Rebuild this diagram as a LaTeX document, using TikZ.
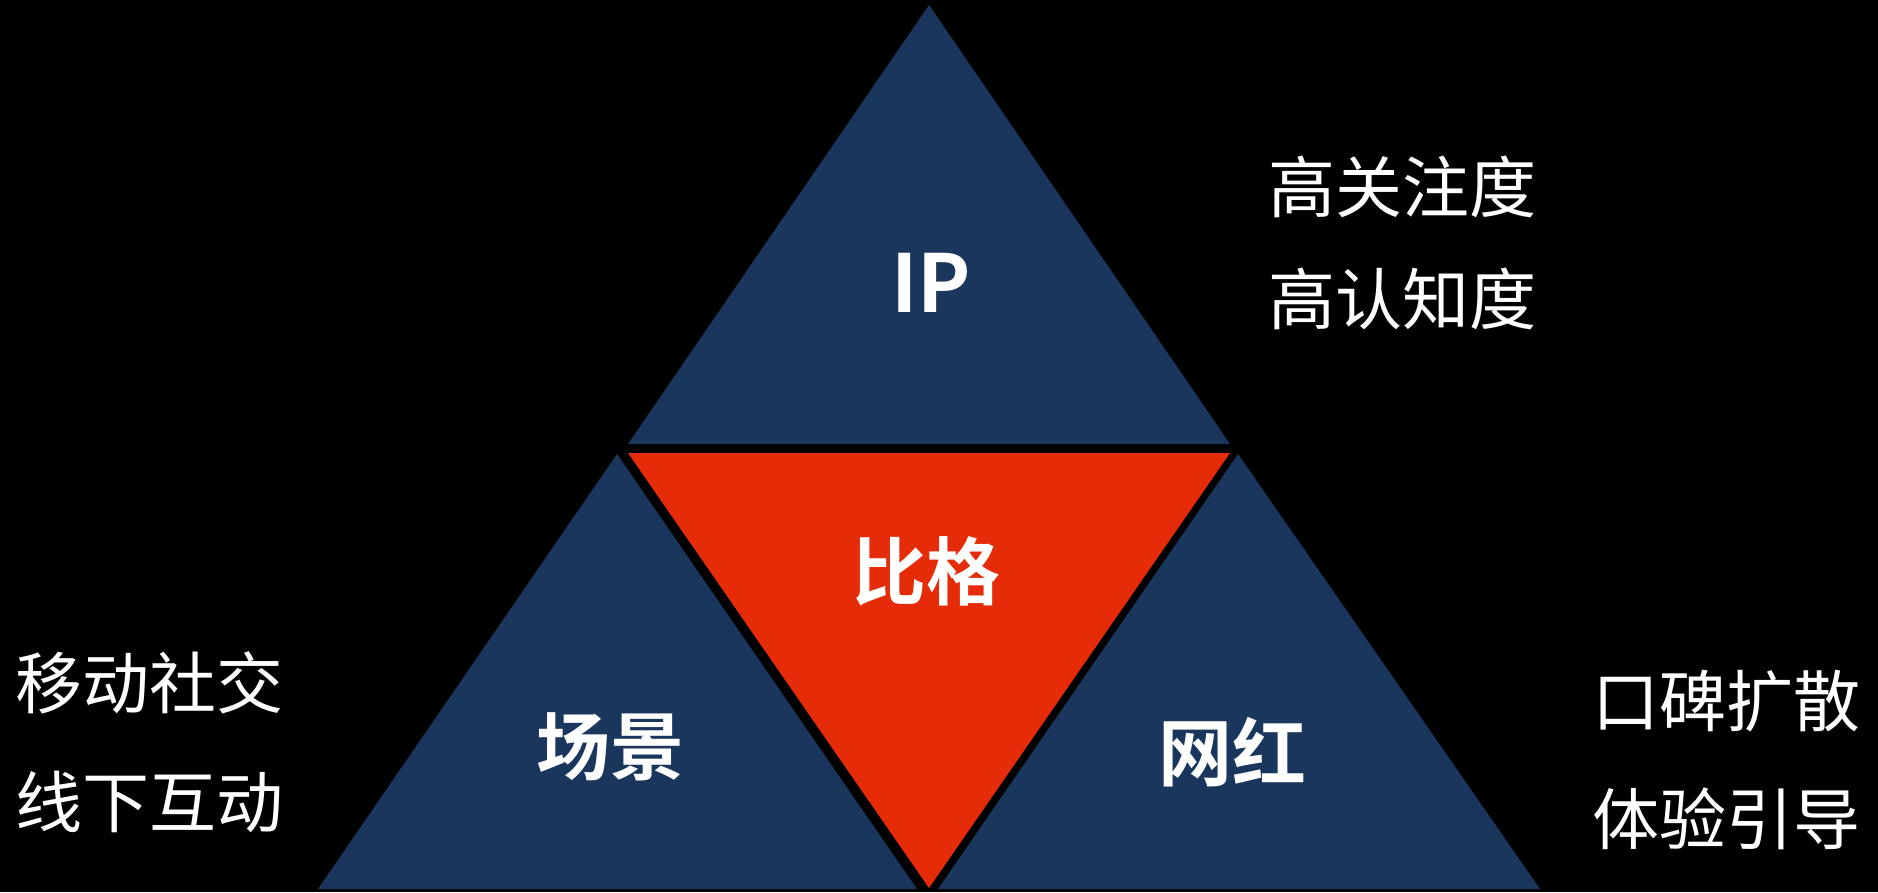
\documentclass[tikz,border=0pt]{standalone}
\usepackage{fontspec}
\usepackage{tikz}
\usetikzlibrary{positioning}
\newfontfamily\cjk{Noto Sans CJK SC}
\newfontfamily\cjkbold{Noto Sans CJK SC Bold}
\definecolor{navy}{RGB}{26,54,93}
\definecolor{bigred}{RGB}{229,43,8}
\tikzset{
  tag/.style={text=white, inner sep=0pt, font=\cjk\fontsize{67}{80}\selectfont},
  corner/.style={text=white, inner sep=0pt, font=\cjkbold\fontsize{74}{88}\selectfont}
}

\begin{document}
\begin{tikzpicture}[x=1pt,y=-1pt]
                    \fill[black] (0,0) rectangle (1878,892);   %background
                    \useasboundingbox (0,0) rectangle (1878,892);
                    \fill[navy] (929,5) -- (628,444) -- (1230,444) -- cycle;   %IP
                    \fill[navy] (617,454) -- (318,889) -- (917,889) -- cycle;   %scene
                    \fill[navy] (1238,454) -- (938,889) -- (1540,889) -- cycle;   %influencer
                    \fill[bigred] (628,453) -- (1230,453) -- (929,888) -- cycle;   %center
                    \node[corner, font=\cjkbold\fontsize{80}{96}\selectfont] (ip) at (931,283) {IP};
                    \node[corner] (bige) at (926,571) {比格};
                    \node[corner] (scene) at (610,747) {场景};
                    \node[corner] (wanghong) at (1232,752) {网红};
                    \node[tag] (attn) at (1402,187) {高关注度};
                    \node[tag] (aware) at (1402,299) {高认知度};
                    \node[tag] (mobile) at (149,683) {移动社交};
                    \node[tag] (offline) at (149,802) {线下互动};
                    \node[tag] (word) at (1726,701) {口碑扩散};
                    \node[tag] (guide) at (1726,819) {体验引导};
                \end{tikzpicture}
\end{document}
